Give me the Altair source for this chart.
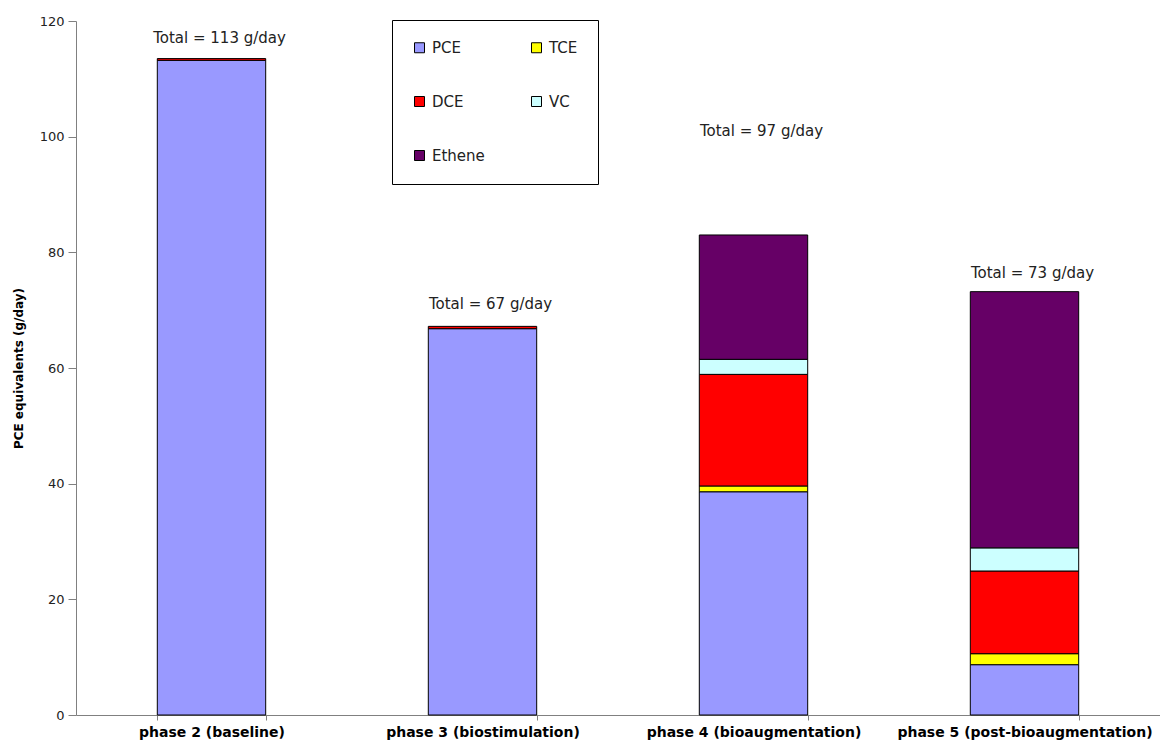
import altair as alt
import pandas as pd

phases = ["phase 2 (baseline)", "phase 3 (biostimulation)",
          "phase 4 (bioaugmentation)", "phase 5 (post-bioaugmentation)"]
species = ["PCE", "TCE", "DCE", "VC", "Ethene"]
# legend is filled column by column: PCE, DCE, Ethene | TCE, VC
legend_order = ["PCE", "DCE", "Ethene", "TCE", "VC"]
legend_colors = ["#9999FF", "#FF0000", "#660066", "#FFFF00", "#CCFFFF"]

PCE = [113.2, 66.8, 38.6, 8.7]
TCE = [0.0, 0.0, 1.0, 1.9]
DCE = [0.3, 0.4, 19.3, 14.3]
VC = [0.0, 0.0, 2.6, 4.0]
Ethene = [0.0, 0.0, 21.5, 44.3]

total_labels = ["Total = 113 g/day", "Total = 67 g/day",
                "Total = 97 g/day", "Total = 73 g/day"]
total_label_y = [117.0, 71.0, 101.0, 76.4]

series = {"PCE": PCE, "TCE": TCE, "DCE": DCE, "VC": VC, "Ethene": Ethene}
rows = []
for si, s in enumerate(species):
    for pi, p in enumerate(phases):
        v = series[s][pi]
        if v > 0:
            rows.append({"phase": p, "species": s, "order": si, "value": v})
df = pd.DataFrame(rows)
labels_df = pd.DataFrame({"phase": phases, "y": total_label_y, "text": total_labels})

FONT = "DejaVu Sans"

x_enc = alt.X("phase:N", sort=phases, title=None,
              scale=alt.Scale(paddingInner=0.6, paddingOuter=0.3),
              axis=alt.Axis(labelAngle=0, tickBand="extent", labelFont=FONT,
                            labelFontSize=14, labelFontWeight="bold",
                            labelColor="black", labelPadding=5, tickSize=5,
                            labelLimit=400,
                            domainColor="#808080", tickColor="#808080"))

bars = alt.Chart(df).mark_bar(stroke="black", strokeWidth=1).encode(
    x=x_enc,
    y=alt.Y("sum(value):Q", title="PCE equivalents (g/day)",
            scale=alt.Scale(domain=[0, 120], nice=False),
            axis=alt.Axis(values=[0, 20, 40, 60, 80, 100, 120], grid=False,
                          labelFont=FONT, labelFontSize=13, labelColor="#222222",
                          titleFont=FONT, titleFontSize=12, titleFontWeight="bold",
                          titleColor="black", titlePadding=14, tickSize=8,
                          labelPadding=4,
                          domainColor="#808080", tickColor="#808080")),
    color=alt.Color("species:N",
                    scale=alt.Scale(domain=legend_order, range=legend_colors),
                    legend=alt.Legend(title=None, orient="none", legendX=316,
                                      legendY=-1, columns=2, columnPadding=44,
                                      rowPadding=38, padding=20,
                                      strokeColor="black", fillColor="white",
                                      symbolType="square", symbolSize=100,
                                      symbolStrokeColor="black", symbolStrokeWidth=1,
                                      labelFont=FONT, labelFontSize=15,
                                      labelColor="#222222", labelOffset=5)),
    order=alt.Order("order:Q", sort="ascending"),
)

text = alt.Chart(labels_df).mark_text(font=FONT, fontSize=15, color="#222222",
                                      baseline="middle", dx=8).encode(
    x=alt.X("phase:N", sort=phases),
    y=alt.Y("y:Q"),
    text="text:N",
)

chart = alt.layer(bars, text).properties(
    width=1084, height=694,
    padding={"left": 68, "top": 13, "right": 0, "bottom": 26},
    autosize=alt.AutoSizeParams(type="none"),
).configure_view(stroke=None)

chart.save("out.html", embed_options={"renderer": "svg", "actions": False})
